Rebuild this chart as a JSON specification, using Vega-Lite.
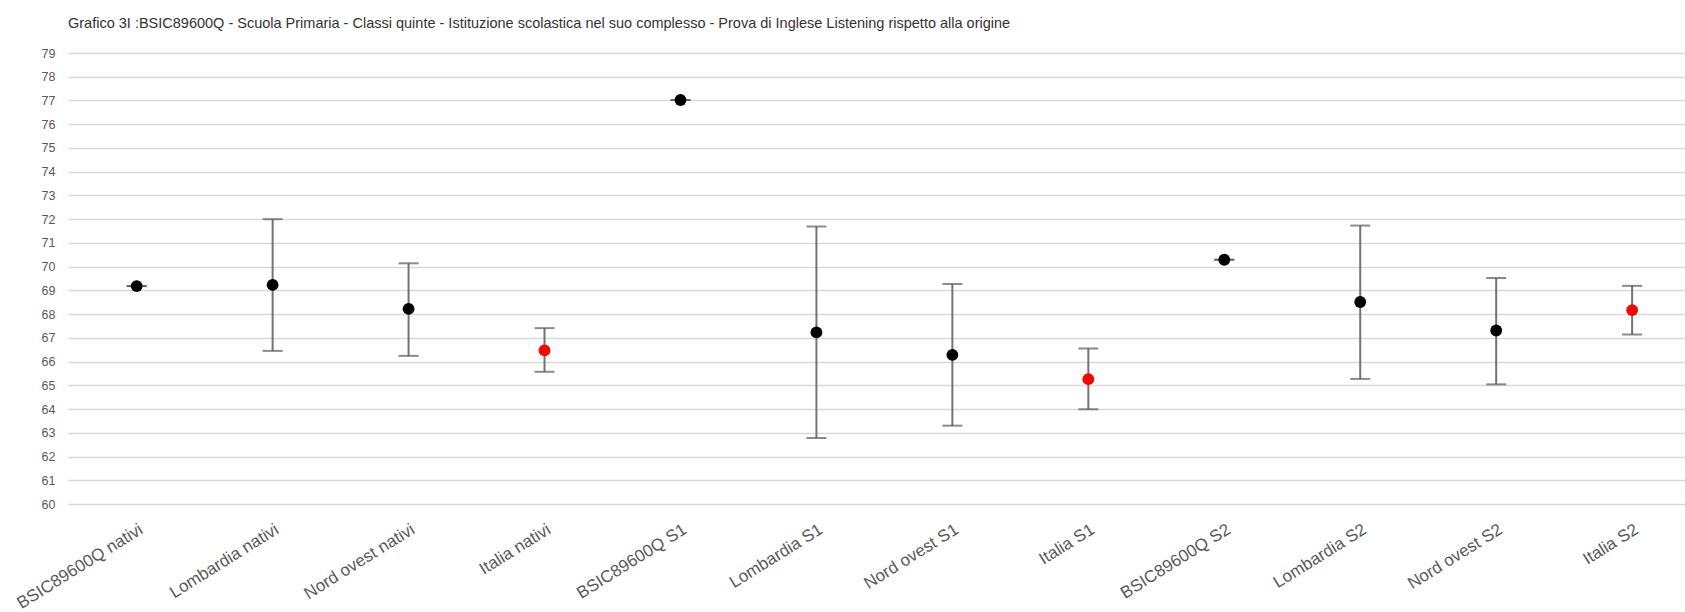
{
  "$schema": "https://vega.github.io/schema/vega-lite/v6.json",
  "autosize": {"type": "none"},
  "padding": {"left": 68, "top": 53, "right": 0, "bottom": 108},
  "width": 1617,
  "height": 451,
  "background": "white",
  "config": {"view": {"stroke": null}},
  "title": {
    "text": "Grafico 3I :BSIC89600Q - Scuola Primaria - Classi quinte - Istituzione scolastica nel suo complesso - Prova di Inglese Listening rispetto alla  origine",
    "anchor": "start",
    "frame": "group",
    "offset": 16,
    "font": "Liberation Sans, Arial",
    "fontSize": 14.5,
    "fontWeight": "normal",
    "color": "#333333"
  },
  "data": {
    "values": [
      {"categoria": "BSIC89600Q nativi", "media": 69.18, "min": 69.18, "max": 69.18, "tipo": "scuola"},
      {"categoria": "Lombardia nativi", "media": 69.23, "min": 66.45, "max": 72.0, "tipo": "area"},
      {"categoria": "Nord ovest nativi", "media": 68.22, "min": 66.24, "max": 70.14, "tipo": "area"},
      {"categoria": "Italia nativi", "media": 66.47, "min": 65.57, "max": 67.41, "tipo": "italia"},
      {"categoria": "BSIC89600Q S1", "media": 77.02, "min": 77.02, "max": 77.02, "tipo": "scuola"},
      {"categoria": "Lombardia S1", "media": 67.23, "min": 62.78, "max": 71.69, "tipo": "area"},
      {"categoria": "Nord ovest S1", "media": 66.28, "min": 63.3, "max": 69.27, "tipo": "area"},
      {"categoria": "Italia S1", "media": 65.26, "min": 63.99, "max": 66.55, "tipo": "italia"},
      {"categoria": "BSIC89600Q S2", "media": 70.29, "min": 70.29, "max": 70.29, "tipo": "scuola"},
      {"categoria": "Lombardia S2", "media": 68.51, "min": 65.27, "max": 71.73, "tipo": "area"},
      {"categoria": "Nord ovest S2", "media": 67.31, "min": 65.04, "max": 69.52, "tipo": "area"},
      {"categoria": "Italia S2", "media": 68.17, "min": 67.14, "max": 69.19, "tipo": "italia"}
    ]
  },
  "encoding": {
    "x": {
      "field": "categoria",
      "type": "nominal",
      "sort": null,
      "scale": {"type": "point", "padding": 0.447, "align": 0.565},
      "axis": {
        "title": null,
        "domain": false,
        "ticks": false,
        "grid": false,
        "labelAngle": -32,
        "labelAlign": "right",
        "labelBaseline": "top",
        "labelPadding": 17,
        "labelDx": 5,
        "labelOverlap": false,
        "labelFont": "Liberation Sans, Arial",
        "labelFontSize": 17,
        "labelColor": "#595959"
      }
    }
  },
  "layer": [
    {
      "mark": {"type": "rule", "color": "#737373", "strokeWidth": 2},
      "encoding": {
        "y": {
          "field": "min",
          "type": "quantitative",
          "scale": {"domain": [60, 79], "nice": false, "zero": false},
          "axis": {
            "title": null,
            "values": [60, 61, 62, 63, 64, 65, 66, 67, 68, 69, 70, 71, 72, 73, 74, 75, 76, 77, 78, 79],
            "domain": false,
            "ticks": false,
            "grid": true,
            "gridColor": "#d9d9d9",
            "gridWidth": 1.3,
            "labelOverlap": false,
            "labelPadding": 13,
            "labelFont": "Liberation Sans, Arial",
            "labelFontSize": 12.5,
            "labelColor": "#595959"
          }
        },
        "y2": {"field": "max"}
      }
    },
    {
      "mark": {"type": "tick", "color": "#595959", "thickness": 2, "size": 20, "orient": "horizontal"},
      "encoding": {"y": {
          "field": "min",
          "type": "quantitative",
          "axis": {
            "title": null,
            "values": [60, 61, 62, 63, 64, 65, 66, 67, 68, 69, 70, 71, 72, 73, 74, 75, 76, 77, 78, 79],
            "domain": false,
            "ticks": false,
            "grid": true,
            "gridColor": "#d9d9d9",
            "gridWidth": 1.3,
            "labelOverlap": false,
            "labelPadding": 13,
            "labelFont": "Liberation Sans, Arial",
            "labelFontSize": 12.5,
            "labelColor": "#595959"
          }
        }}
    },
    {
      "mark": {"type": "tick", "color": "#595959", "thickness": 2, "size": 20, "orient": "horizontal"},
      "encoding": {"y": {
          "field": "max",
          "type": "quantitative",
          "axis": {
            "title": null,
            "values": [60, 61, 62, 63, 64, 65, 66, 67, 68, 69, 70, 71, 72, 73, 74, 75, 76, 77, 78, 79],
            "domain": false,
            "ticks": false,
            "grid": true,
            "gridColor": "#d9d9d9",
            "gridWidth": 1.3,
            "labelOverlap": false,
            "labelPadding": 13,
            "labelFont": "Liberation Sans, Arial",
            "labelFontSize": 12.5,
            "labelColor": "#595959"
          }
        }}
    },
    {
      "mark": {"type": "point", "filled": true, "opacity": 1},
      "encoding": {
        "y": {
          "field": "media",
          "type": "quantitative",
          "axis": {
            "title": null,
            "values": [60, 61, 62, 63, 64, 65, 66, 67, 68, 69, 70, 71, 72, 73, 74, 75, 76, 77, 78, 79],
            "domain": false,
            "ticks": false,
            "grid": true,
            "gridColor": "#d9d9d9",
            "gridWidth": 1.3,
            "labelOverlap": false,
            "labelPadding": 13,
            "labelFont": "Liberation Sans, Arial",
            "labelFontSize": 12.5,
            "labelColor": "#595959"
          }
        },
        "color": {
          "field": "tipo",
          "type": "nominal",
          "scale": {"domain": ["scuola", "area", "italia"], "range": ["#000000", "#000000", "#ff0000"]},
          "legend": null
        },
        "size": {
          "field": "tipo",
          "type": "nominal",
          "scale": {"domain": ["scuola", "area", "italia"], "range": [140, 140, 55]},
          "legend": null
        }
      }
    }
  ]
}
